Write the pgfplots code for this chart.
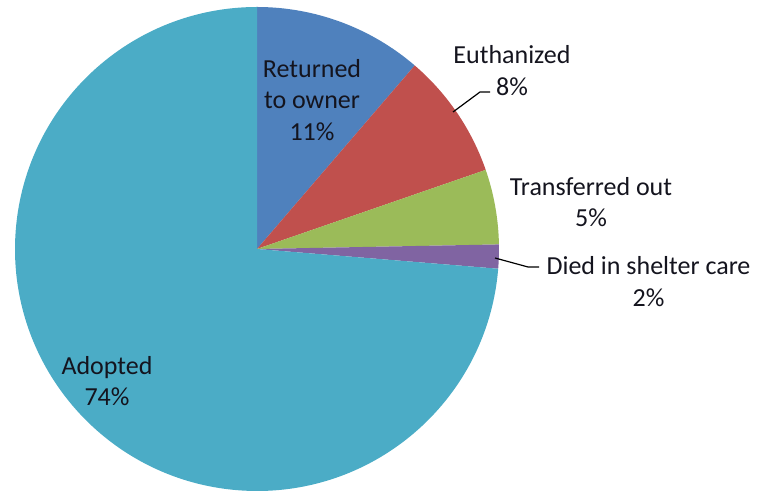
\documentclass[border=0pt]{standalone}
\usepackage{pgfplots}
\pgfplotsset{compat=1.18}
\usepackage{fontspec}
\setmainfont{Carlito}
\definecolor{cRet}{RGB}{79,129,189}
\definecolor{cEut}{RGB}{192,80,77}
\definecolor{cTra}{RGB}{155,187,89}
\definecolor{cDie}{RGB}{128,100,162}
\definecolor{cAdo}{RGB}{75,172,198}
\definecolor{txt}{RGB}{20,20,30}
% shares (%) of outcomes
\def\vRet{11.3}
\def\vEut{8.4}
\def\vTra{5.0}
\def\vDie{1.6}
\def\vAdo{73.7}
\tikzset{lbl/.style={font=\fontsize{13}{15.75}\selectfont,text=txt,align=center,inner sep=0pt}}
\begin{document}
\begin{tikzpicture}
\pgfmathsetmacro\aA{90}
\pgfmathsetmacro\aB{\aA-3.6*\vRet}
\pgfmathsetmacro\aC{\aB-3.6*\vEut}
\pgfmathsetmacro\aD{\aC-3.6*\vTra}
\pgfmathsetmacro\aE{\aD-3.6*\vDie}
\pgfmathsetmacro\aF{\aE-3.6*\vAdo}
\begin{axis}[x=0.5pt,y=0.5pt,xmin=-257,xmax=503,ymin=-242,ymax=249,
  hide axis,clip=false]
\path (rel axis cs:0,0) rectangle (rel axis cs:1,1);
\def\R{242}
\fill[cRet] (axis cs:0,0) -- (axis cs:{\R*cos(\aA)},{\R*sin(\aA)}) arc[start angle=\aA,end angle=\aB,radius=121pt] -- cycle;
\fill[cEut] (axis cs:0,0) -- (axis cs:{\R*cos(\aB)},{\R*sin(\aB)}) arc[start angle=\aB,end angle=\aC,radius=121pt] -- cycle;
\fill[cTra] (axis cs:0,0) -- (axis cs:{\R*cos(\aC)},{\R*sin(\aC)}) arc[start angle=\aC,end angle=\aD,radius=121pt] -- cycle;
\fill[cDie] (axis cs:0,0) -- (axis cs:{\R*cos(\aD)},{\R*sin(\aD)}) arc[start angle=\aD,end angle=\aE,radius=121pt] -- cycle;
\fill[cAdo] (axis cs:0,0) -- (axis cs:{\R*cos(\aE)},{\R*sin(\aE)}) arc[start angle=\aE,end angle=\aF,radius=121pt] -- cycle;
% labels
\node[lbl] at (axis cs:55,149) {Returned\\to owner\\11\%};
\node[lbl] at (axis cs:255,178.5) {Euthanized\\8\%};
\draw[black,line width=0.6pt] (axis cs:196,137) -- (axis cs:223,157) -- (axis cs:233,157);
\node[lbl] at (axis cs:334,47) {Transferred out\\5\%};
\node[lbl] at (axis cs:391.5,-32.5) {Died in shelter care\\2\%};
\draw[black,line width=0.6pt] (axis cs:238,-9) -- (axis cs:271,-18) -- (axis cs:282,-18);
\node[lbl] at (axis cs:-150,-132) {Adopted\\74\%};
\end{axis}
\end{tikzpicture}
\end{document}
